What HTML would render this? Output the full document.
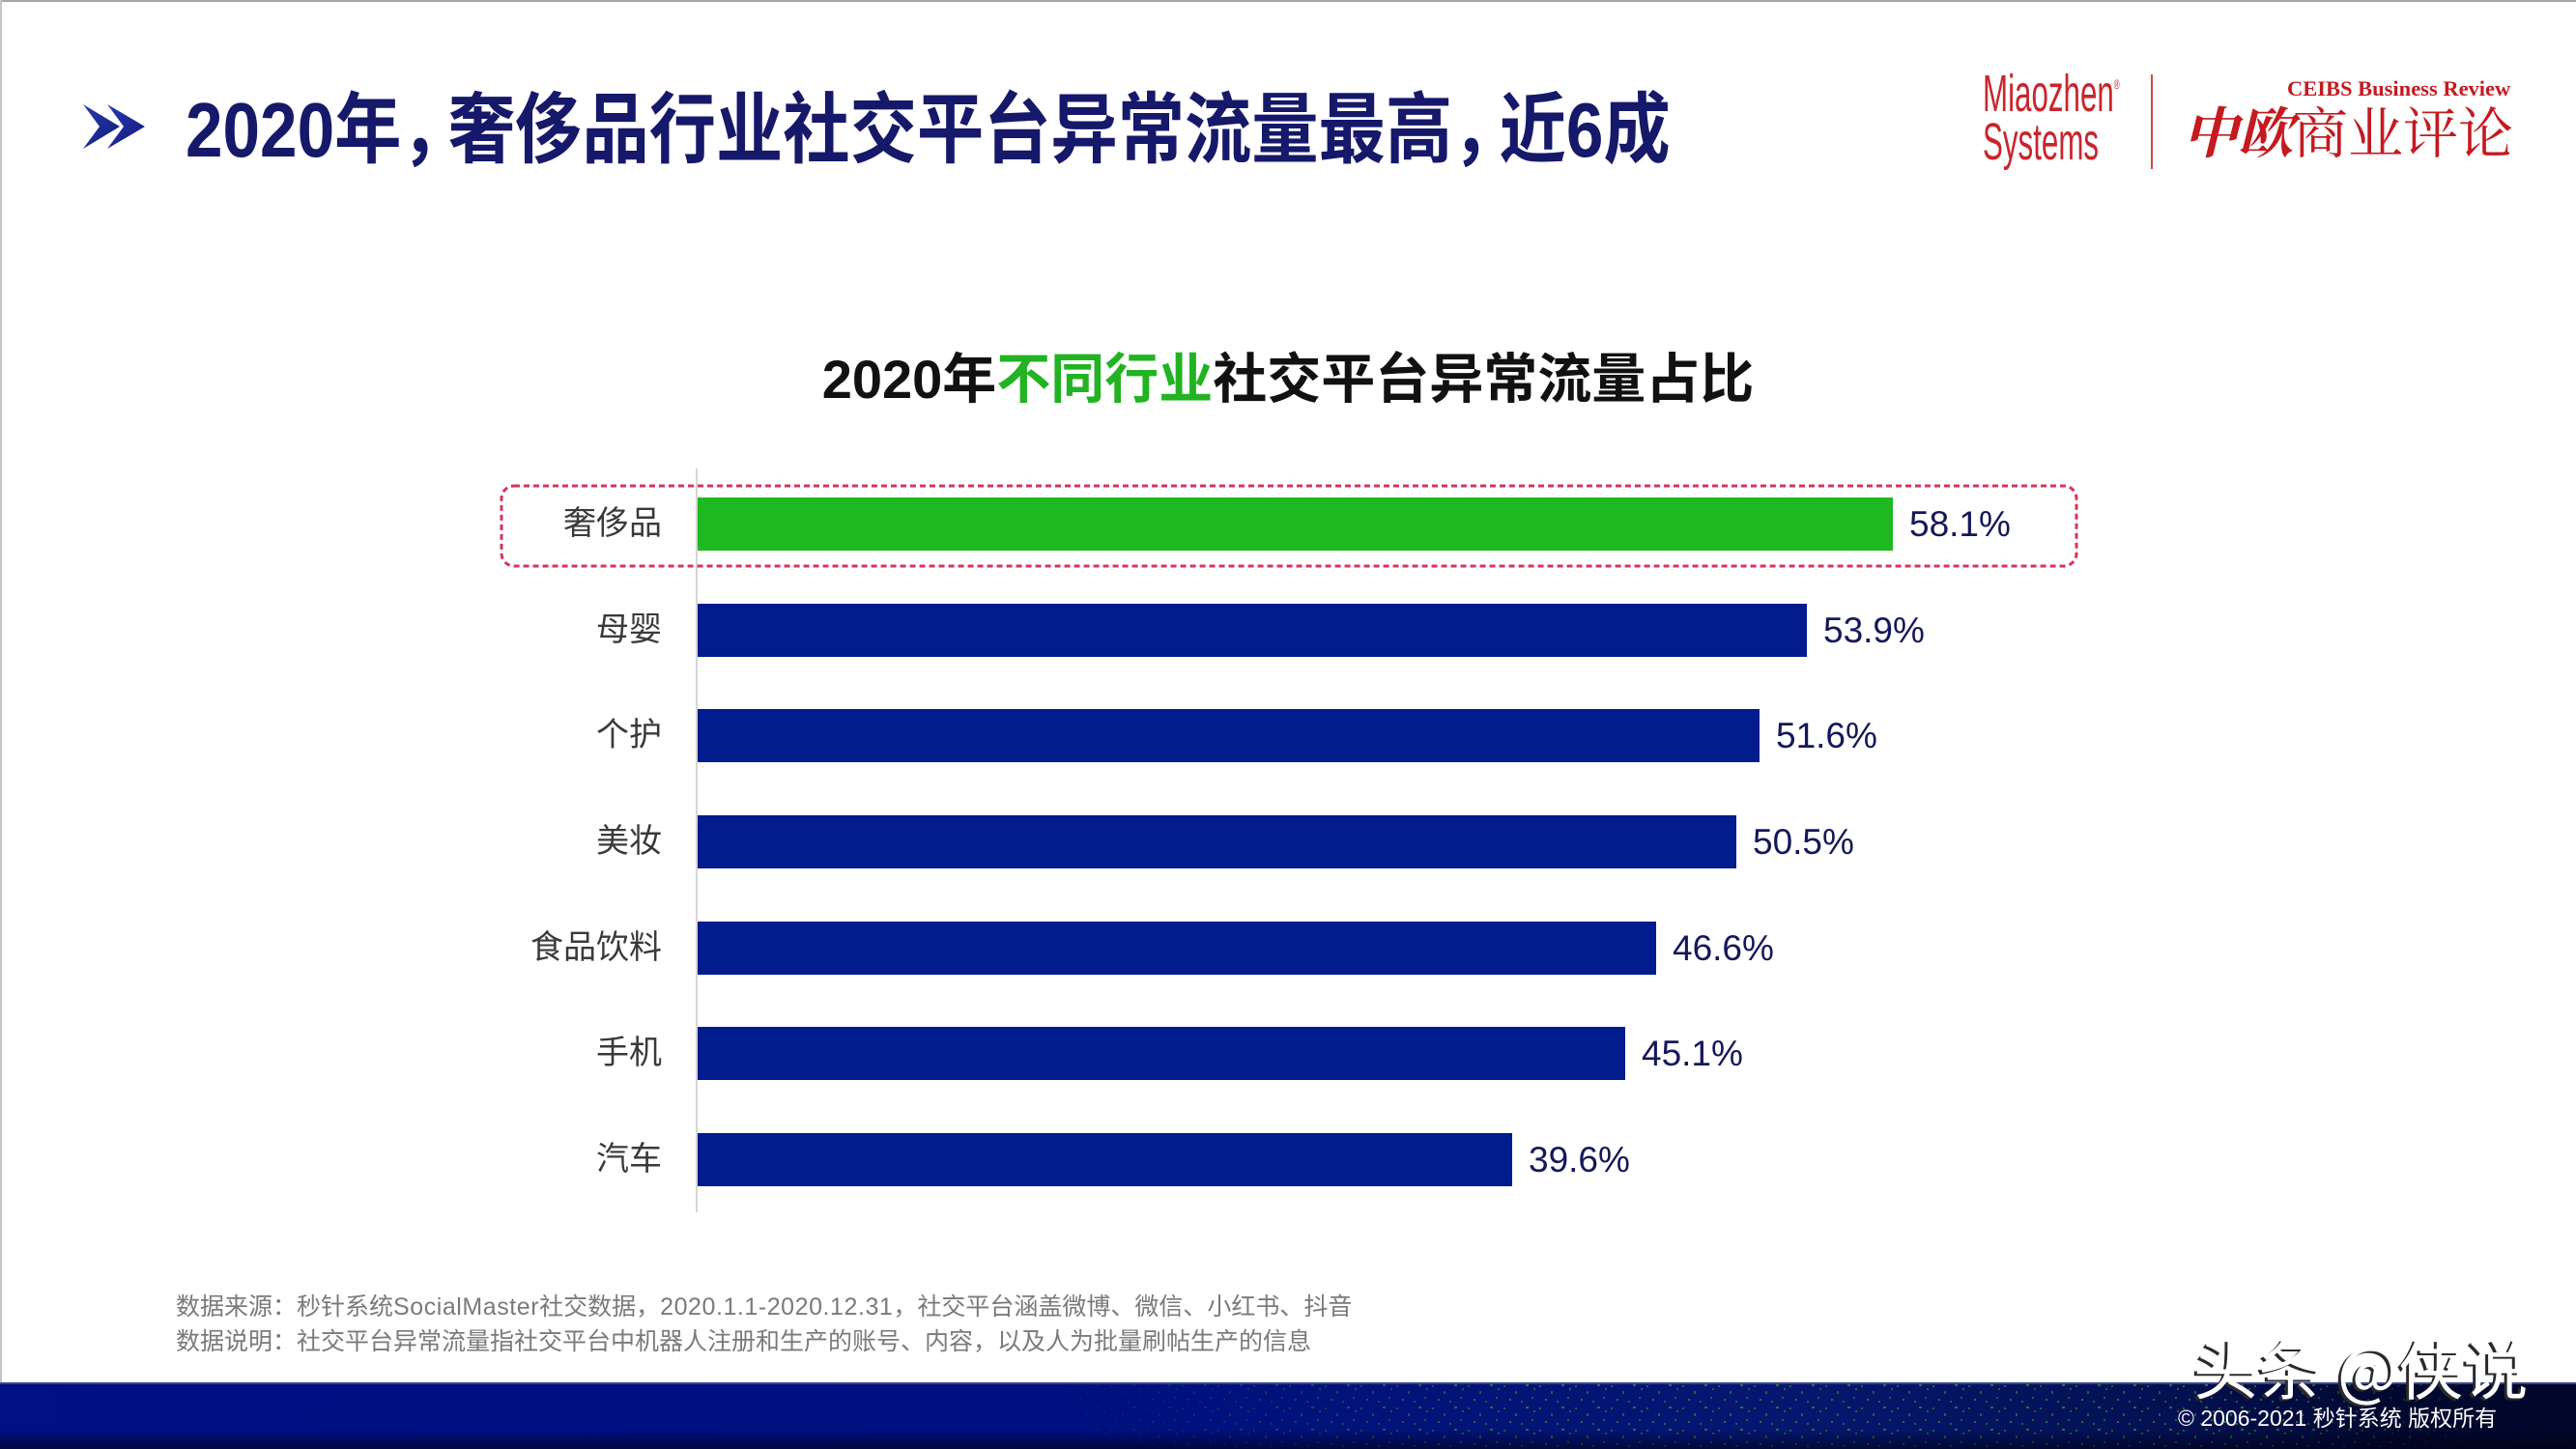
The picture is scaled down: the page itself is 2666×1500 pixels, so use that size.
<!DOCTYPE html>
<html>
<head>
<meta charset="utf-8">
<style>
html,body{margin:0;padding:0;background:#fff;}
body{width:2666px;height:1500px;position:relative;overflow:hidden;font-family:"Liberation Sans","Noto Sans CJK SC",sans-serif;}
.abs{position:absolute;white-space:nowrap;}
.title{left:192px;top:95px;height:80px;line-height:80px;font-size:80px;font-weight:bold;color:#16186a;transform:scaleX(0.866);transform-origin:left center;}
.title .cm{letter-spacing:-0.3em;}
.ctitle{left:0;width:2666px;text-align:center;top:363px;height:60px;line-height:60px;font-size:56px;font-weight:bold;color:#111;}
.ctitle span{color:#22b323;}
.cat{right:1981px;height:55px;line-height:55px;font-size:34px;color:#3a3a3a;text-align:right;}
.bar{left:722px;height:55px;background:#021b8d;}
.val{height:55px;line-height:55px;font-size:37px;color:#14185a;}
.note{left:182px;font-size:25px;color:#7a7a7a;height:30px;line-height:30px;}
.note .lt{letter-spacing:0.55px;}
</style>
</head>
<body>
<!-- frame -->
<div class="abs" style="left:0;top:0;width:2666px;height:2px;background:#a6a6a6;"></div>
<div class="abs" style="left:0;top:0;width:2px;height:1431px;background:#c4c4c4;"></div>

<!-- chevrons -->
<svg class="abs" style="left:0;top:0;" width="200" height="200">
  <defs>
    <linearGradient id="cg" x1="0" y1="0" x2="1" y2="1">
      <stop offset="0" stop-color="#2a3bb0"/>
      <stop offset="1" stop-color="#101a78"/>
    </linearGradient>
  </defs>
  <polygon points="86,108 124,131 86,154 103,131" fill="url(#cg)"/>
  <polygon points="111,108 150,131 111,154 128,131" fill="url(#cg)"/>
</svg>

<div class="abs title">2020年<span class="cm">，</span>奢侈品行业社交平台异常流量最高<span class="cm">，</span>近6成</div>

<!-- logos -->
<div class="abs" style="left:2052px;top:72px;font-size:54px;line-height:50px;color:#c8262c;transform:scaleX(0.58);transform-origin:left top;">Miaozhen<span style="font-size:14px;vertical-align:top;line-height:30px;">®</span><br>Systems</div>
<div class="abs" style="left:2226px;top:77px;width:2px;height:98px;background:#d24a4a;"></div>
<div class="abs" style="left:2367px;top:80px;font-size:22.5px;line-height:24px;font-weight:bold;color:#c41a20;font-family:'Liberation Serif',serif;">CEIBS Business Review</div>
<div class="abs" style="left:2259px;top:100px;font-size:57px;line-height:68px;color:#c41a20;font-family:'Noto Serif CJK SC',serif;"><span style="font-weight:bold;font-style:italic;">中欧</span>商业评论</div>

<!-- chart title -->
<div class="abs ctitle">2020年<span>不同行业</span>社交平台异常流量占比</div>

<!-- axis -->
<div class="abs" style="left:720px;top:485px;width:2px;height:770px;background:#d6d6d6;"></div>

<!-- highlight box -->
<svg class="abs" style="left:515px;top:499px;" width="1640" height="92">
  <rect x="4" y="4" width="1630" height="83" rx="13" ry="13" fill="none" stroke="#d8335c" stroke-width="3" stroke-dasharray="6 4"/>
</svg>

<!-- bars -->
<div class="abs bar" style="top:515px;width:1237px;background:#1eb821;"></div>
<div class="abs bar" style="top:625px;width:1148px;"></div>
<div class="abs bar" style="top:734px;width:1099px;"></div>
<div class="abs bar" style="top:844px;width:1075px;"></div>
<div class="abs bar" style="top:954px;width:992px;"></div>
<div class="abs bar" style="top:1063px;width:960px;"></div>
<div class="abs bar" style="top:1173px;width:843px;"></div>

<!-- category labels -->
<div class="abs cat" style="top:515px;">奢侈品</div>
<div class="abs cat" style="top:625px;">母婴</div>
<div class="abs cat" style="top:734px;">个护</div>
<div class="abs cat" style="top:844px;">美妆</div>
<div class="abs cat" style="top:954px;">食品饮料</div>
<div class="abs cat" style="top:1063px;">手机</div>
<div class="abs cat" style="top:1173px;">汽车</div>

<!-- values -->
<div class="abs val" style="top:515px;left:1976px;">58.1%</div>
<div class="abs val" style="top:625px;left:1887px;">53.9%</div>
<div class="abs val" style="top:734px;left:1838px;">51.6%</div>
<div class="abs val" style="top:844px;left:1814px;">50.5%</div>
<div class="abs val" style="top:954px;left:1731px;">46.6%</div>
<div class="abs val" style="top:1063px;left:1699px;">45.1%</div>
<div class="abs val" style="top:1173px;left:1582px;">39.6%</div>

<!-- notes -->
<div class="abs note" style="top:1338px;">数据来源：秒针系统<span class="lt">SocialMaster</span>社交数据，<span class="lt">2020.1.1-2020.12.31</span>，社交平台涵盖微博、微信、小红书、抖音</div>
<div class="abs note" style="top:1374px;">数据说明：社交平台异常流量指社交平台中机器人注册和生产的账号、内容，以及人为批量刷帖生产的信息</div>

<!-- bottom band -->
<div class="abs" style="left:0;top:1431px;width:2666px;height:69px;background:linear-gradient(90deg,#001085 0%,#00107f 45%,#06166f 70%,#041050 85%,#01082f 93%,#01072a 100%);"></div>
<svg class="abs" style="left:0;top:1431px;-webkit-mask-image:linear-gradient(90deg,transparent 40%,#000 58%,#000 88%,transparent 97%);mask-image:linear-gradient(90deg,transparent 40%,#000 58%,#000 88%,transparent 97%);" width="2666" height="69">
  <defs>
    <pattern id="sp" width="37" height="23" patternUnits="userSpaceOnUse">
      <rect x="2" y="3" width="2" height="2" fill="#1f7a2a"/>
      <rect x="14" y="9" width="2" height="3" fill="#1f7a2a"/>
      <rect x="25" y="2" width="3" height="2" fill="#2a8a30"/>
      <rect x="31" y="15" width="2" height="2" fill="#1f7a2a"/>
      <rect x="8" y="17" width="2" height="2" fill="#2a8a30"/>
      <rect x="20" y="19" width="2" height="2" fill="#1f7a2a"/>
      <rect x="33" y="6" width="2" height="2" fill="#1f7a2a"/>
    </pattern>
  </defs>
  <rect x="0" y="0" width="2666" height="69" fill="url(#sp)" opacity="0.8"/>
</svg>
<div class="abs" style="left:0;top:1431px;width:2666px;height:2px;background:#3a4690;"></div>
<div class="abs" style="left:0;top:1480px;width:2666px;height:20px;background:linear-gradient(180deg,rgba(0,0,0,0) 0%,rgba(0,0,20,0.6) 100%);"></div>

<!-- watermark -->
<div class="abs" style="left:2270px;top:1378px;font-size:67px;line-height:74px;color:#fff;font-family:'Noto Sans CJK SC',sans-serif;text-shadow:-3px 2px 0 #2a2a2a;">头条 @侠说</div>
<div class="abs" style="left:2254px;top:1453px;font-size:23px;line-height:30px;color:#fff;">© 2006-2021 秒针系统 版权所有</div>
</body>
</html>
